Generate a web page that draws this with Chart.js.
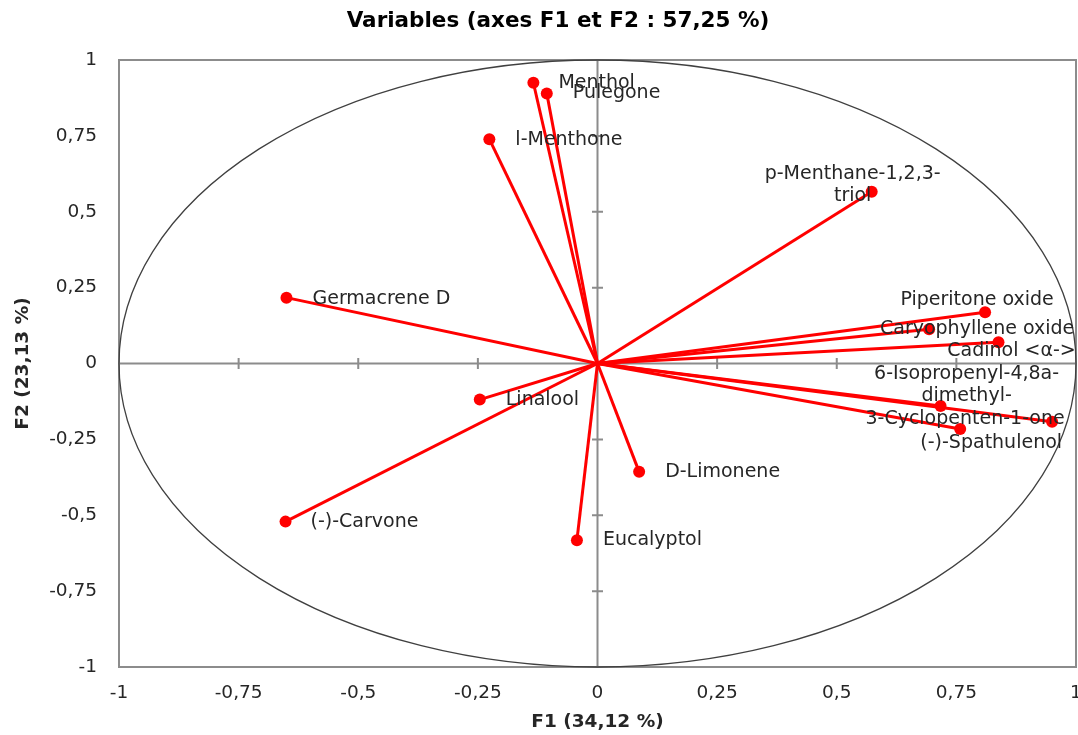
<!DOCTYPE html>
<html><head><meta charset="utf-8">
<script src="https://cdn.jsdelivr.net/npm/chart.js@4.4.1/dist/chart.umd.min.js"></script>
<style>html,body{margin:0;padding:0;background:#fff;overflow:hidden}#wrap{width:1082px;height:735px;position:relative}</style>
</head><body><div id="wrap"><canvas id="c"></canvas></div>
<script>
// ---- data ----
const variables = ['Menthol','Pulegone','l-Menthone','p-Menthane-1,2,3-triol','Germacrene D','Piperitone oxide','Caryophyllene oxide','Cadinol <\u03b1->','Linalool','6-Isopropenyl-4,8a-dimethyl-','3-Cyclopenten-1-one','(-)-Spathulenol','D-Limonene','Eucalyptol','(-)-Carvone'];
const f1 = [-0.134,-0.106,-0.226,0.573,-0.650,0.810,0.693,0.838,-0.246,0.717,0.950,0.758,0.087,-0.043,-0.652];
const f2 = [0.925,0.890,0.739,0.566,0.217,0.169,0.113,0.070,-0.119,-0.140,-0.192,-0.216,-0.357,-0.582,-0.521];
const tickValues = [-1,-0.75,-0.5,-0.25,0,0.25,0.5,0.75,1];
const chartTitle = 'Variables (axes F1 et F2 : 57,25 %)';
const xTitle = 'F1 (34,12 %)';
const yTitle = 'F2 (23,13 %)';

// ---- label placement (pixel offsets from the point, styling only) ----
const labelLayout = [
  {lines:['Menthol'], dx:25, dy:0, align:'left'},
  {lines:['Pulegone'], dx:26, dy:0, align:'left'},
  {lines:['l-Menthone'], dx:26, dy:1, align:'left'},
  {lines:['p-Menthane-1,2,3-','triol'], dx:-19, dy:-18, align:'center'},
  {lines:['Germacrene D'], dx:26, dy:1, align:'left'},
  {lines:['Piperitone oxide'], dx:-8, dy:-12, align:'center'},
  {lines:['Caryophyllene oxide'], dx:48, dy:0, align:'center'},
  {lines:['Cadinol <\u03b1->'], dx:13, dy:9, align:'center'},
  {lines:['Linalool'], dx:26, dy:0, align:'left'},
  {lines:['6-Isopropenyl-4,8a-','dimethyl-'], dx:26, dy:-32, align:'center'},
  {lines:['3-Cyclopenten-1-one'], dx:-87, dy:-3, align:'center'},
  {lines:['(-)-Spathulenol'], dx:31, dy:14, align:'center'},
  {lines:['D-Limonene'], dx:26, dy:0, align:'left'},
  {lines:['Eucalyptol'], dx:26, dy:0, align:'left'},
  {lines:['(-)-Carvone'], dx:25, dy:0, align:'left'}
];

const FONT = '"DejaVu Sans", sans-serif';
const TXT = '#262626';
const AXIS = '#8c8c8c';

const datasets = variables.map((name, i) => ({
  label: name,
  data: [{x:0, y:0}, {x:f1[i], y:f2[i]}],
  showLine: true,
  borderColor: '#ff0000',
  borderWidth: 3,
  pointRadius: [0, 6],
  pointHoverRadius: [0, 6],
  pointBackgroundColor: '#ff0000',
  pointBorderColor: '#ff0000',
  pointBorderWidth: 0
}));

const fmt = v => String(v).replace('.', ',');

const decor = {
  id: 'decor',
  beforeDatasetsDraw(chart) {
    const {ctx, chartArea: a, scales: {x, y}} = chart;
    ctx.save();
    ctx.strokeStyle = AXIS; ctx.lineWidth = 2;
    ctx.strokeRect(a.left, a.top, a.right - a.left, a.bottom - a.top);
    const x0 = x.getPixelForValue(0), y0 = y.getPixelForValue(0);
    ctx.beginPath();
    ctx.moveTo(a.left, y0); ctx.lineTo(a.right, y0);
    ctx.moveTo(x0, a.top); ctx.lineTo(x0, a.bottom);
    tickValues.forEach(v => {
      if (v === 0 || Math.abs(v) === 1) return;
      const px = x.getPixelForValue(v), py = y.getPixelForValue(v);
      ctx.moveTo(px, y0 - 5.5); ctx.lineTo(px, y0 + 5.5);
      ctx.moveTo(x0 - 5.5, py); ctx.lineTo(x0 + 5.5, py);
    });
    ctx.stroke();
    const rx = x.getPixelForValue(1) - x0;
    const ry = y0 - y.getPixelForValue(1);
    ctx.beginPath();
    ctx.ellipse(x0, y0, rx, ry, 0, 0, Math.PI * 2);
    ctx.strokeStyle = '#404040'; ctx.lineWidth = 1.3;
    ctx.stroke();
    ctx.restore();
  },
  afterDatasetsDraw(chart) {
    const {ctx, chartArea: a, scales: {x, y}} = chart;
    ctx.save();
    ctx.fillStyle = TXT;
    ctx.textBaseline = 'middle';
    ctx.font = '19px ' + FONT;
    variables.forEach((name, i) => {
      const L = labelLayout[i];
      const px = x.getPixelForValue(f1[i]) + L.dx;
      const py = y.getPixelForValue(f2[i]) + L.dy;
      ctx.textAlign = L.align;
      L.lines.forEach((t, k) => ctx.fillText(t, px, py + k * 22));
    });
    ctx.fillStyle = '#000';
    ctx.font = 'bold 21.5px ' + FONT;
    ctx.textAlign = 'center';
    ctx.fillText(chartTitle, 558, 21);
    ctx.fillStyle = '#262626';
    ctx.font = 'bold 18.5px ' + FONT;
    ctx.fillText(xTitle, (a.left + a.right) / 2, 722);
    ctx.translate(23, (a.top + a.bottom) / 2);
    ctx.rotate(-Math.PI / 2);
    ctx.fillText(yTitle, 0, 0);
    ctx.restore();
  }
};

const zeroPad = s => { s.paddingLeft = 0; s.paddingRight = 0; s.paddingTop = 0; s.paddingBottom = 0; };

new Chart(document.getElementById('c'), {
  type: 'scatter',
  data: { datasets },
  options: {
    responsive: true,
    maintainAspectRatio: false,
    animation: false,
    events: [],
    layout: { padding: { top: 60, right: 0, left: 0, bottom: 0 } },
    plugins: { legend: { display: false }, tooltip: { enabled: false }, title: { display: false } },
    scales: {
      x: {
        type: 'linear', min: -1, max: 1,
        grid: { display: false, drawTicks: false },
        border: { display: false },
        ticks: { stepSize: 0.25, padding: 15, color: TXT, font: { family: FONT, size: 18.5 }, callback: fmt, maxRotation: 0, autoSkip: false },
        afterFit(s) { s.height = 68; zeroPad(s); }
      },
      y: {
        type: 'linear', min: -1, max: 1,
        grid: { display: false, drawTicks: false },
        border: { display: false },
        ticks: { stepSize: 0.25, padding: 22, color: TXT, font: { family: FONT, size: 18.5 }, callback: fmt, autoSkip: false },
        afterFit(s) { s.width = 119; zeroPad(s); }
      }
    }
  },
  plugins: [decor]
});
</script>
</body></html>
